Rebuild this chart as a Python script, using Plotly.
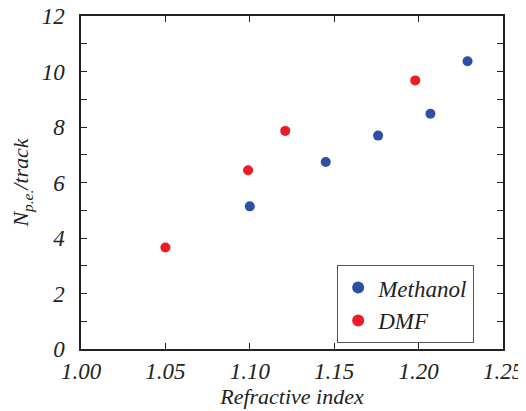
import plotly.graph_objects as go

methanol_x = [1.100, 1.145, 1.176, 1.207, 1.229]
methanol_y = [5.14, 6.74, 7.69, 8.48, 10.37]
dmf_x = [1.050, 1.099, 1.121, 1.198]
dmf_y = [3.66, 6.44, 7.86, 9.68]

x_ticks = [1.00, 1.05, 1.10, 1.15, 1.20, 1.25]
x_labels = ["1.00", "1.05", "1.10", "1.15", "1.20", "1.25"]
y_ticks = [0, 2, 4, 6, 8, 10, 12]
y_labels = ["0", "2", "4", "6", "8", "10", "12"]

FONT = "Liberation Serif"
INK = "#222222"


def it(s):
    return f"<i>{s}</i>"


fig = go.Figure()
fig.add_trace(go.Scatter(x=methanol_x, y=methanol_y, mode="markers", name=it("Methanol"),
                         marker=dict(color="#2D4FA5", size=10)))
fig.add_trace(go.Scatter(x=dmf_x, y=dmf_y, mode="markers", name=it("DMF"),
                         marker=dict(color="#EC1C24", size=10)))

axis_common = dict(showline=True, linecolor=INK, linewidth=1.5, mirror="allticks",
                   ticks="inside", ticklen=6, tickcolor=INK, showgrid=False, zeroline=False,
                   automargin=False, ticklabeloverflow="allow",
                   tickfont=dict(family=FONT, size=23, color=INK))
fig.update_xaxes(range=[1.0, 1.25], tickvals=x_ticks, ticktext=[it(t) for t in x_labels],
                 title=dict(text=it("Refractive index"), font=dict(family=FONT, size=22, color=INK), standoff=0),
                 ticklabelstandoff=1, **axis_common)
fig.update_yaxes(range=[0, 12], tickvals=y_ticks, ticktext=[it(t) for t in y_labels],
                 minor=dict(dtick=1, ticks="inside", ticklen=6, tickcolor=INK),
                 title=dict(text=it("N<sub>p.e.</sub>/track"), font=dict(family=FONT, size=22, color=INK), standoff=8),
                 ticklabelstandoff=10, **axis_common)

fig.update_layout(width=518, height=403, margin=dict(l=73, r=23, t=8, b=62),
                  plot_bgcolor="white", paper_bgcolor="white", showlegend=True,
                  legend=dict(x=0.607, y=0.252, xanchor="left", yanchor="top",
                              bordercolor="#555555", borderwidth=1, bgcolor="white",
                              font=dict(family=FONT, size=23, color=INK),
                              itemsizing="constant", tracegroupgap=0))
fig.write_html("out.html")
